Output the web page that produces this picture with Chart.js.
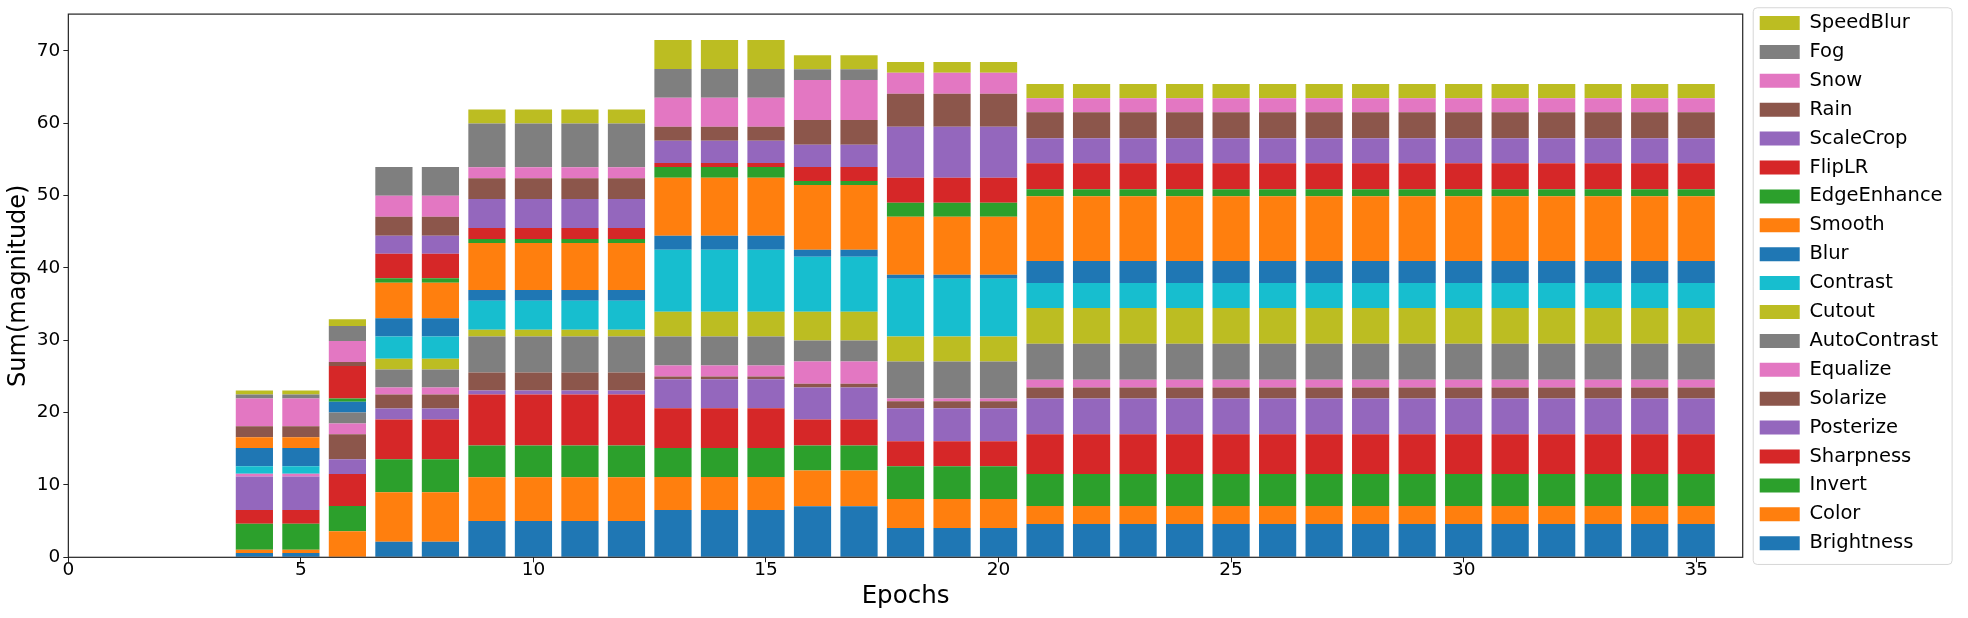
<!DOCTYPE html>
<html>
<head>
<meta charset="utf-8">
<script src="https://cdn.jsdelivr.net/npm/chart.js"></script>
<style>
  html, body { margin: 0; padding: 0; background: #fff; }
  canvas { display: block; }
</style>
</head>
<body>
<canvas id="magChart" width="1968" height="618"></canvas>
<script>
// epochs on the x axis, one stacked bar each
const epochs = [4, 5, 6, 7, 8, 9, 10, 11, 12, 13, 14, 15, 16, 17, 18, 19, 20,
  21, 22, 23, 24, 25, 26, 27, 28, 29, 30, 31, 32, 33, 34, 35];

const xTicks = [0, 5, 10, 15, 20, 25, 30, 35];
const yTicks = [0, 10, 20, 30, 40, 50, 60, 70];

// stack order, bottom to top
const opNames = ["Brightness", "Color", "Invert", "Sharpness", "Posterize", "Solarize",
  "Equalize", "AutoContrast", "Cutout", "Contrast", "Blur", "Smooth", "EdgeEnhance",
  "FlipLR", "ScaleCrop", "Rain", "Snow", "Fog", "SpeedBlur"];

const opColors = ["#1f77b4", "#ff7f0e", "#2ca02c", "#d62728", "#9467bd", "#8c564b",
  "#e377c2", "#7f7f7f", "#bcbd22", "#17becf", "#1f77b4", "#ff7f0e", "#2ca02c",
  "#d62728", "#9467bd", "#8c564b", "#e377c2", "#7f7f7f", "#bcbd22"];

const brightness = [0.6, 0.6, 0, 2.15, 2.15, 5.0, 5.0, 5.0, 5.0, 6.55, 6.55, 6.55, 7.05, 7.05, 4.05, 4.05, 4.05,
  4.6, 4.6, 4.6, 4.6, 4.6, 4.6, 4.6, 4.6, 4.6, 4.6, 4.6, 4.6, 4.6, 4.6, 4.6];
const color = [0.45, 0.45, 3.6, 6.85, 6.85, 6.05, 6.05, 6.05, 6.05, 4.55, 4.55, 4.55, 4.95, 4.95, 4.0, 4.0, 4.0,
  2.5, 2.5, 2.5, 2.5, 2.5, 2.5, 2.5, 2.5, 2.5, 2.5, 2.5, 2.5, 2.5, 2.5, 2.5];
const invert = [3.6, 3.6, 3.5, 4.55, 4.55, 4.4, 4.4, 4.4, 4.4, 4.0, 4.0, 4.0, 3.45, 3.45, 4.55, 4.55, 4.55,
  4.4, 4.4, 4.4, 4.4, 4.4, 4.4, 4.4, 4.4, 4.4, 4.4, 4.4, 4.4, 4.4, 4.4, 4.4];
const sharpness = [1.9, 1.9, 4.4, 5.5, 5.5, 7.05, 7.05, 7.05, 7.05, 5.5, 5.5, 5.5, 3.6, 3.6, 3.45, 3.45, 3.45,
  5.5, 5.5, 5.5, 5.5, 5.5, 5.5, 5.5, 5.5, 5.5, 5.5, 5.5, 5.5, 5.5, 5.5, 5.5];
const posterize = [4.6, 4.6, 2.05, 1.5, 1.5, 0.55, 0.55, 0.55, 0.55, 4.0, 4.0, 4.0, 4.4, 4.4, 4.55, 4.55, 4.55,
  4.95, 4.95, 4.95, 4.95, 4.95, 4.95, 4.95, 4.95, 4.95, 4.95, 4.95, 4.95, 4.95, 4.95, 4.95];
const solarize = [0, 0, 3.45, 1.95, 1.95, 2.5, 2.5, 2.5, 2.5, 0.4, 0.4, 0.4, 0.55, 0.55, 0.95, 0.95, 0.95,
  1.5, 1.5, 1.5, 1.5, 1.5, 1.5, 1.5, 1.5, 1.5, 1.5, 1.5, 1.5, 1.5, 1.5, 1.5];
const equalize = [0.4, 0.4, 1.5, 0.95, 0.95, 0, 0, 0, 0, 1.5, 1.5, 1.5, 3.05, 3.05, 0.4, 0.4, 0.4,
  1.1, 1.1, 1.1, 1.1, 1.1, 1.1, 1.1, 1.1, 1.1, 1.1, 1.1, 1.1, 1.1, 1.1, 1.1];
const autoContrast = [0, 0, 1.5, 2.5, 2.5, 4.95, 4.95, 4.95, 4.95, 4.0, 4.0, 4.0, 2.9, 2.9, 5.1, 5.1, 5.1,
  4.95, 4.95, 4.95, 4.95, 4.95, 4.95, 4.95, 4.95, 4.95, 4.95, 4.95, 4.95, 4.95, 4.95, 4.95];
const cutout = [0, 0, 0, 1.5, 1.5, 0.95, 0.95, 0.95, 0.95, 3.45, 3.45, 3.45, 4.0, 4.0, 3.45, 3.45, 3.45,
  4.95, 4.95, 4.95, 4.95, 4.95, 4.95, 4.95, 4.95, 4.95, 4.95, 4.95, 4.95, 4.95, 4.95, 4.95];
const contrast = [1.05, 1.05, 0, 3.05, 3.05, 4.0, 4.0, 4.0, 4.0, 8.55, 8.55, 8.55, 7.6, 7.6, 8.0, 8.0, 8.0,
  3.45, 3.45, 3.45, 3.45, 3.45, 3.45, 3.45, 3.45, 3.45, 3.45, 3.45, 3.45, 3.45, 3.45, 3.45];
const blur = [2.5, 2.5, 1.5, 2.55, 2.55, 1.5, 1.5, 1.5, 1.5, 1.95, 1.95, 1.95, 0.95, 0.95, 0.55, 0.55, 0.55,
  3.05, 3.05, 3.05, 3.05, 3.05, 3.05, 3.05, 3.05, 3.05, 3.05, 3.05, 3.05, 3.05, 3.05, 3.05];
const smooth = [1.5, 1.5, 0, 4.9, 4.9, 6.5, 6.5, 6.5, 6.5, 8.0, 8.0, 8.0, 8.95, 8.95, 8.0, 8.0, 8.0,
  8.95, 8.95, 8.95, 8.95, 8.95, 8.95, 8.95, 8.95, 8.95, 8.95, 8.95, 8.95, 8.95, 8.95, 8.95];
const edgeEnhance = [0, 0, 0.45, 0.6, 0.6, 0.55, 0.55, 0.55, 0.55, 1.5, 1.5, 1.5, 0.55, 0.55, 1.95, 1.95, 1.95,
  0.95, 0.95, 0.95, 0.95, 0.95, 0.95, 0.95, 0.95, 0.95, 0.95, 0.95, 0.95, 0.95, 0.95, 0.95];
const flipLR = [0, 0, 4.5, 3.4, 3.4, 1.5, 1.5, 1.5, 1.5, 0.55, 0.55, 0.55, 1.95, 1.95, 3.45, 3.45, 3.45,
  3.6, 3.6, 3.6, 3.6, 3.6, 3.6, 3.6, 3.6, 3.6, 3.6, 3.6, 3.6, 3.6, 3.6, 3.6];
const scaleCrop = [0, 0, 0, 2.5, 2.5, 4.0, 4.0, 4.0, 4.0, 3.05, 3.05, 3.05, 3.05, 3.05, 7.05, 7.05, 7.05,
  3.45, 3.45, 3.45, 3.45, 3.45, 3.45, 3.45, 3.45, 3.45, 3.45, 3.45, 3.45, 3.45, 3.45, 3.45];
const rain = [1.5, 1.5, 0.55, 2.6, 2.6, 2.9, 2.9, 2.9, 2.9, 1.95, 1.95, 1.95, 3.45, 3.45, 4.55, 4.55, 4.55,
  3.6, 3.6, 3.6, 3.6, 3.6, 3.6, 3.6, 3.6, 3.6, 3.6, 3.6, 3.6, 3.6, 3.6, 3.6];
const snow = [3.85, 3.85, 2.9, 2.9, 2.9, 1.5, 1.5, 1.5, 1.5, 4.0, 4.0, 4.0, 5.5, 5.5, 2.9, 2.9, 2.9,
  1.95, 1.95, 1.95, 1.95, 1.95, 1.95, 1.95, 1.95, 1.95, 1.95, 1.95, 1.95, 1.95, 1.95, 1.95];
const fog = [0.55, 0.55, 2.05, 4.0, 4.0, 6.05, 6.05, 6.05, 6.05, 4.0, 4.0, 4.0, 1.5, 1.5, 0, 0, 0,
  0, 0, 0, 0, 0, 0, 0, 0, 0, 0, 0, 0, 0, 0, 0];
const speedBlur = [0.55, 0.55, 0.95, 0, 0, 1.95, 1.95, 1.95, 1.95, 4.0, 4.0, 4.0, 1.95, 1.95, 1.5, 1.5, 1.5,
  1.95, 1.95, 1.95, 1.95, 1.95, 1.95, 1.95, 1.95, 1.95, 1.95, 1.95, 1.95, 1.95, 1.95, 1.95];

const opValues = [brightness, color, invert, sharpness, posterize, solarize, equalize,
  autoContrast, cutout, contrast, blur, smooth, edgeEnhance, flipLR, scaleCrop, rain,
  snow, fog, speedBlur];

const FONT = "'DejaVu Sans', sans-serif";
Chart.defaults.font.family = FONT;
Chart.defaults.color = "#000";

// box around the plot area, like matplotlib spines
const framePlugin = {
  id: "frame",
  afterDraw(chart) {
    const { ctx, chartArea: a } = chart;
    ctx.save();
    ctx.strokeStyle = "#222";
    ctx.lineWidth = 1.2;
    ctx.strokeRect(a.left, a.top, a.right - a.left, a.bottom - a.top);
    ctx.restore();
  },
};

// rounded light frame around the legend entries
const legendFramePlugin = {
  id: "legendFrame",
  afterDraw(chart) {
    const hb = chart.legend && chart.legend.legendHitBoxes;
    if (!hb || !hb.length) return;
    const l = Math.min(...hb.map((h) => h.left)) - 7;
    const r = Math.max(...hb.map((h) => h.left + h.width)) + 9;
    const t = Math.min(...hb.map((h) => h.top)) - 6;
    const b = Math.max(...hb.map((h) => h.top + h.height)) + 11;
    const ctx = chart.ctx;
    ctx.save();
    ctx.strokeStyle = "#d6d6d6";
    ctx.lineWidth = 1;
    ctx.beginPath();
    ctx.roundRect(l + 0.5, t + 0.5, r - l, b - t, 4);
    ctx.stroke();
    ctx.restore();
  },
};

function buildDatasets() {
  return opNames.map((name, i) => ({
    label: name,
    data: epochs.map((e, j) => ({ x: e, y: opValues[i][j] })),
    backgroundColor: opColors[i],
    borderWidth: 0,
    barPercentage: 1,
    categoryPercentage: 0.8,
  }));
}

new Chart(document.getElementById("magChart"), {
  type: "bar",
  data: { datasets: buildDatasets() },
  options: {
    responsive: false,
    animation: false,
    devicePixelRatio: 1,
    layout: { padding: { left: 4.6, right: 15.4, top: 3.85, bottom: 0 } },
    plugins: {
      tooltip: { enabled: false },
      title: {
        display: true,
        text: "",
        fullSize: false,
        font: { size: 1, lineHeight: 1 },
        padding: { top: 8.45, bottom: 0 },
      },
      legend: {
        position: "right",
        align: "start",
        reverse: true,
        labels: {
          boxWidth: 40,
          boxHeight: 14,
          padding: 9.4,
          color: "#000",
          font: { family: FONT, size: 19.5, lineHeight: 1 },
        },
      },
    },
    scales: {
      x: {
        type: "linear",
        stacked: true,
        offset: false,
        min: 0,
        max: 36,
        afterBuildTicks: (s) => { s.ticks = xTicks.map((v) => ({ value: v })); },
        grid: { offset: false, drawOnChartArea: false, drawTicks: true, tickLength: 5, color: "#222" },
        border: { display: false },
        ticks: { padding: 0, font: { size: 18.5, lineHeight: 0.8 }, maxRotation: 0 },
        title: {
          display: true,
          text: "Epochs",
          font: { size: 24.5, lineHeight: 1.2 },
          padding: { top: 5.2, bottom: 6.3 },
        },
      },
      y: {
        stacked: true,
        min: 0,
        max: 75.07,
        afterBuildTicks: (s) => { s.ticks = yTicks.map((v) => ({ value: v })); },
        grid: { drawOnChartArea: false, drawTicks: true, tickLength: 5, color: "#222" },
        border: { display: false },
        ticks: { padding: 3, font: { size: 18.5 } },
        title: {
          display: true,
          text: "Sum(magnitude)",
          font: { size: 24, lineHeight: 1.2 },
          padding: { top: 0, bottom: 0.4 },
        },
      },
      gap: {
        position: "right",
        display: true,
        grid: { display: false },
        ticks: { display: false },
        border: { display: false },
        afterFit: (s) => { s.width = 7.6; },
      },
    },
  },
  plugins: [framePlugin, legendFramePlugin],
});
</script>
</body>
</html>
